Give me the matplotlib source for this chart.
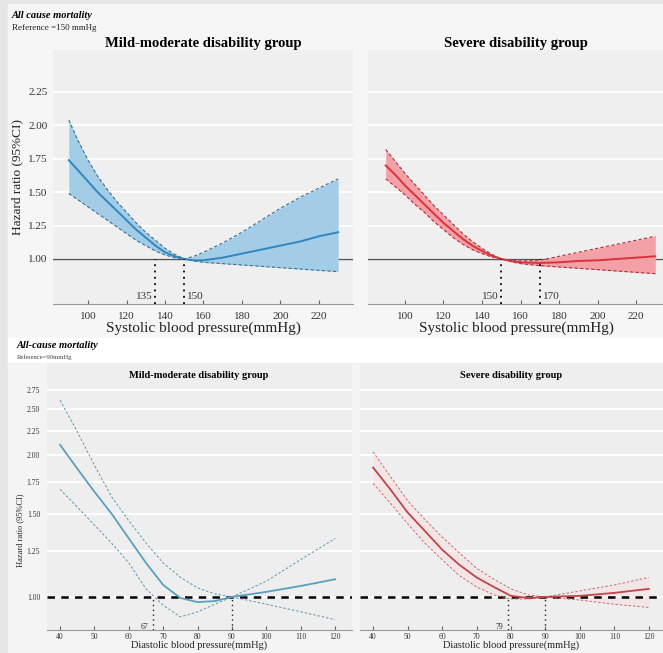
import numpy as np
import matplotlib
matplotlib.use("Agg")
from matplotlib import pyplot as plt
from matplotlib.patches import Rectangle
from matplotlib.ticker import FixedLocator, FixedFormatter, NullLocator

plt.rcParams['font.family'] = ['Liberation Serif', 'DejaVu Serif']

# ---- data ----
# systolic, reference 150 mmHg
sbp = [90, 95, 100, 105, 110, 115, 120, 125, 130, 135, 140, 145, 150, 155, 160,
       170, 180, 190, 200, 210, 220, 230]
mild_sbp_hr = [1.74, 1.66, 1.58, 1.50, 1.43, 1.36, 1.29, 1.22, 1.16, 1.10, 1.05, 1.02, 1.00, 0.99, 0.99,
               1.01, 1.04, 1.07, 1.10, 1.13, 1.17, 1.20]
mild_sbp_hi = [2.04, 1.88, 1.74, 1.62, 1.52, 1.43, 1.35, 1.27, 1.20, 1.14, 1.08, 1.035, 1.00, 1.02, 1.05,
               1.12, 1.20, 1.29, 1.38, 1.46, 1.53, 1.60]
mild_sbp_lo = [1.49, 1.44, 1.39, 1.34, 1.29, 1.24, 1.19, 1.14, 1.10, 1.06, 1.03, 1.01, 1.00, 0.985, 0.975,
               0.965, 0.955, 0.945, 0.935, 0.925, 0.915, 0.905]
sev_sbp_hr = [1.70, 1.63, 1.55, 1.48, 1.41, 1.34, 1.27, 1.21, 1.15, 1.10, 1.06, 1.025, 1.00, 0.985, 0.975,
              0.97, 0.975, 0.985, 0.99, 1.00, 1.01, 1.02]
sev_sbp_hi = [1.82, 1.73, 1.64, 1.56, 1.48, 1.40, 1.33, 1.26, 1.19, 1.13, 1.08, 1.035, 1.00, 0.99, 0.985,
              0.99, 1.02, 1.05, 1.08, 1.11, 1.14, 1.17]
sev_sbp_lo = [1.60, 1.54, 1.48, 1.41, 1.35, 1.28, 1.22, 1.16, 1.11, 1.07, 1.04, 1.015, 1.00, 0.98, 0.965,
              0.95, 0.94, 0.93, 0.92, 0.91, 0.90, 0.89]

# diastolic, reference 90 mmHg
dbp = [40, 45, 50, 55, 60, 65, 70, 75, 80, 85, 90, 100, 110, 120]
mild_dbp_hr = [2.10, 1.87, 1.67, 1.50, 1.33, 1.18, 1.06, 0.995, 0.975, 0.98, 1.00, 1.025, 1.055, 1.09]
mild_dbp_hi = [2.61, 2.24, 1.90, 1.63, 1.45, 1.30, 1.18, 1.10, 1.045, 1.015, 1.00, 1.08, 1.20, 1.33]
mild_dbp_lo = [1.69, 1.55, 1.42, 1.30, 1.18, 1.04, 0.96, 0.907, 0.93, 0.965, 1.00, 0.965, 0.93, 0.895]
sev_dbp_hr = [1.88, 1.69, 1.51, 1.38, 1.26, 1.17, 1.10, 1.05, 1.005, 0.995, 1.00, 1.005, 1.02, 1.04]
sev_dbp_hi = [2.03, 1.80, 1.60, 1.46, 1.34, 1.24, 1.15, 1.09, 1.04, 1.01, 1.00, 1.03, 1.06, 1.10]
sev_dbp_lo = [1.74, 1.58, 1.43, 1.30, 1.20, 1.11, 1.05, 1.01, 0.99, 0.99, 1.00, 0.985, 0.965, 0.95]

sbp_ticks = [100, 120, 140, 160, 180, 200, 220]
sbp_yticks = [1.00, 1.25, 1.50, 1.75, 2.00, 2.25]
dbp_ticks = [40, 50, 60, 70, 80, 90, 100, 110, 120]
dbp_yticks = [1.00, 1.25, 1.50, 1.75, 2.00, 2.25, 2.50, 2.75]

mild_sbp_cut = [135, 150]
sev_sbp_cut = [150, 170]
mild_dbp_cut = [67, 90]
sev_dbp_cut = [79, 90]

# ---- figure in pixel layout ----
W, H = 663, 653
fig = plt.figure(figsize=(W / 100, H / 100), dpi=100)
fig.patch.set_facecolor('#e6e6e6')


def px_rect(x0, y0, x1, y1, color):
    fig.patches.append(Rectangle((x0 / W, 1 - y1 / H), (x1 - x0) / W, (y1 - y0) / H,
                                 transform=fig.transFigure, color=color, zorder=-10))


def px_axes(x0, y0, x1, y1):
    return fig.add_axes([x0 / W, 1 - y1 / H, (x1 - x0) / W, (y1 - y0) / H])


def ftxt(x, y, s, **kw):
    kw.setdefault('va', 'center')
    fig.text(x / W, 1 - y / H, s, **kw)


px_rect(8, 4, 663, 338, '#f6f6f6')
px_rect(8, 338, 663, 363, '#ffffff')
px_rect(8, 363, 663, 653, '#f4f4f4')


def style_axes(ax, xlim, ylim, xticks, yticks, show_ylab, fs, pad, face):
    ax.set_facecolor(face)
    ax.set_xlim(*xlim)
    ax.set_ylim(*ylim)
    for s in ['left', 'top', 'right']:
        ax.spines[s].set_visible(False)
    ax.spines['bottom'].set_color('#999999')
    ax.spines['bottom'].set_linewidth(0.8)
    ax.xaxis.set_major_locator(FixedLocator(xticks))
    ax.xaxis.set_major_formatter(FixedFormatter([str(t) for t in xticks]))
    ax.yaxis.set_major_locator(FixedLocator(yticks))
    ax.yaxis.set_major_formatter(FixedFormatter(['%.2f' % t for t in yticks]))
    ax.xaxis.set_minor_locator(NullLocator())
    ax.yaxis.set_minor_locator(NullLocator())
    ax.tick_params(axis='x', direction='in', length=3, width=0.8, color='#666666',
                   labelsize=fs, labelcolor='#333333', pad=pad)
    ax.tick_params(axis='y', length=0, labelsize=fs, labelcolor='#333333',
                   labelleft=show_ylab, pad=4)
    ax.yaxis.grid(True, color='white', lw=1.3)
    ax.set_axisbelow(True)


# ---- top: systolic ----
top_ylim = (0.663, 2.564)
ax1 = px_axes(53, 50, 353, 304)
style_axes(ax1, (81.8, 237.7), top_ylim, sbp_ticks, sbp_yticks, True, 8, 5.5, '#efefef')
ax2 = px_axes(368, 50, 663, 304)
style_axes(ax2, (80.8, 234.0), top_ylim, sbp_ticks, sbp_yticks, False, 8, 5.5, '#efefef')

for ax, hr, hi, lo, fill, line, edge, cuts in [
        (ax1, mild_sbp_hr, mild_sbp_hi, mild_sbp_lo, '#a3cde6', '#2f86c0', '#3d6f93', mild_sbp_cut),
        (ax2, sev_sbp_hr, sev_sbp_hi, sev_sbp_lo, '#f3a0a6', '#d8343e', '#b03038', sev_sbp_cut)]:
    ax.axhline(1.0, color='#555555', lw=1.0, zorder=2)
    ax.fill_between(sbp, lo, hi, color=fill, lw=0, zorder=3)
    ax.plot(sbp, hi, color=edge, lw=0.8, ls=(0, (3, 2)), zorder=4)
    ax.plot(sbp, lo, color=edge, lw=0.8, ls=(0, (3, 2)), zorder=4)
    ax.plot(sbp, hr, color=line, lw=1.4, zorder=5)
    for c in cuts:
        ax.plot([c, c], [top_ylim[0], 1.0], color='black', lw=1.3, ls=(0, (1, 2.5)), zorder=6)
    ax.text(cuts[0] - 1.5, 0.716, str(cuts[0]), ha='right', va='center', fontsize=8, color='#333333')
    ax.text(cuts[1] + 1.5, 0.716, str(cuts[1]), ha='left', va='center', fontsize=8, color='#333333')

ftxt(12, 15, 'All cause mortality', fontsize=7.5, fontweight='bold', style='italic')
ftxt(12, 28, 'Reference =150 mmHg', fontsize=6.5, color='#222222')
ftxt(203, 44, 'Mild-moderate disability group', fontsize=10.5, fontweight='bold', ha='center')
ftxt(516, 44, 'Severe disability group', fontsize=10.5, fontweight='bold', ha='center')
ftxt(17, 177, 'Hazard ratio (95%CI)', fontsize=9.5, rotation=90, ha='center', color='#222222')
ftxt(203, 328, 'Systolic blood pressure(mmHg)', fontsize=11, ha='center', color='#222222')
ftxt(516, 328, 'Systolic blood pressure(mmHg)', fontsize=11, ha='center', color='#222222')

# ---- bottom: diastolic (log scale) ----
bot_ylim = (0.851, 3.13)
ax3 = px_axes(47, 363, 352, 630)
ax3.set_yscale('log')
style_axes(ax3, (36.2, 124.9), bot_ylim, dbp_ticks, dbp_yticks, True, 5.5, 2, '#eeeeee')
ax4 = px_axes(360, 363, 663, 630)
ax4.set_yscale('log')
style_axes(ax4, (36.2, 124.1), bot_ylim, dbp_ticks, dbp_yticks, False, 5.5, 2, '#eeeeee')
ax3.tick_params(axis='y', pad=5)

for ax, hr, hi, lo, line, edge, fill, cuts in [
        (ax3, mild_dbp_hr, mild_dbp_hi, mild_dbp_lo, '#5a9fbd', '#5b98a8', None, mild_dbp_cut),
        (ax4, sev_dbp_hr, sev_dbp_hi, sev_dbp_lo, '#c0444a', '#c86a6e', '#f7dcdc', sev_dbp_cut)]:
    if fill:
        ax.fill_between(dbp, lo, hi, color=fill, lw=0, alpha=0.45, zorder=2)
    ax.plot(dbp, hi, color=edge, lw=0.7, ls=(0, (2.5, 2)), zorder=4)
    ax.plot(dbp, lo, color=edge, lw=0.7, ls=(0, (2.5, 2)), zorder=4)
    ax.plot(dbp, hr, color=line, lw=1.3, zorder=5)
    ax.axhline(1.0, color='black', lw=1.8, ls=(0, (3, 2.5)), zorder=3)
    for c in cuts:
        ax.plot([c, c], [bot_ylim[0], 1.0], color='#222222', lw=1.0, ls=(0, (1, 2.5)), zorder=6)
    ax.text(cuts[0] - 1.2, 0.862, str(cuts[0]), ha='right', va='center', fontsize=5.5, color='#333333')

ftxt(17, 345, 'All-cause mortality', fontsize=7.5, fontweight='bold', style='italic')
ftxt(17, 357, 'Reference=90mmHg', fontsize=4.8, color='#444444')
ftxt(199, 375, 'Mild-moderate disability group', fontsize=7.5, fontweight='bold', ha='center')
ftxt(511, 375, 'Severe disability group', fontsize=7.5, fontweight='bold', ha='center')
ftxt(20, 530, 'Hazard ratio (95%CI)', fontsize=6, rotation=90, ha='center', color='#222222')
ftxt(199, 645, 'Diastolic blood pressure(mmHg)', fontsize=7.5, ha='center', color='#222222')
ftxt(511, 645, 'Diastolic blood pressure(mmHg)', fontsize=7.5, ha='center', color='#222222')

fig.savefig('out.png', dpi=100, facecolor=fig.get_facecolor())
